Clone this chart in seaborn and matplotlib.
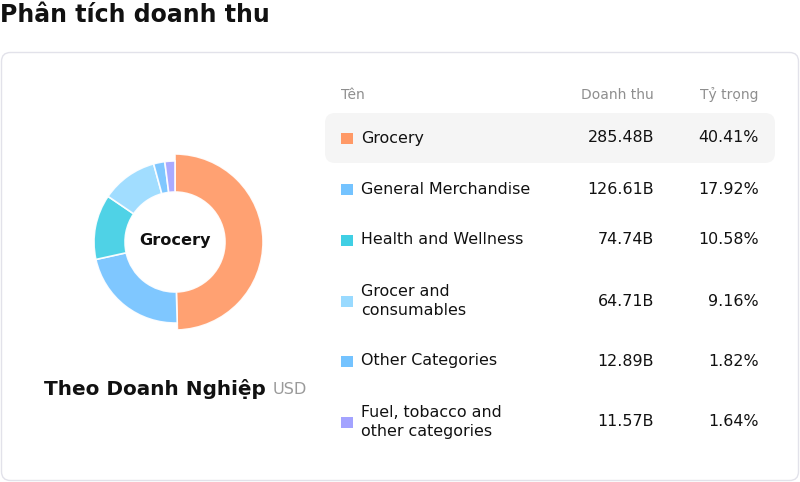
import matplotlib
matplotlib.use("Agg")
import matplotlib.pyplot as plt
from matplotlib.patches import FancyBboxPatch, Rectangle
import seaborn as sns

# ---- data ----
categories = ["Grocery", "General Merchandise", "Health and Wellness",
              "Grocer and\nconsumables", "Other Categories",
              "Fuel, tobacco and\nother categories"]
revenue = [285.48, 126.61, 74.74, 64.71, 12.89, 11.57]
revenue_labels = ["285.48B", "126.61B", "74.74B", "64.71B", "12.89B", "11.57B"]
share_labels = ["40.41%", "17.92%", "10.58%", "9.16%", "1.82%", "1.64%"]
colors = ["#FF9966", "#74C3FF", "#40CFE4", "#99DAFF", "#74C3FF", "#A3A3FF"]
headers = ["Tên", "Doanh thu", "Tỷ trọng"]
title = "Phân tích doanh thu"
subtitle = "Theo Doanh Nghiệp"
unit = "USD"
center_label = "Grocery"

sns.set_theme(style="white")
plt.rcParams['font.family'] = ['DejaVu Sans']

W, H = 800, 482
fig = plt.figure(figsize=(W / 100, H / 100), dpi=100)
fig.patch.set_facecolor("white")

bg = fig.add_axes([0, 0, 1, 1])
bg.set_xlim(0, W)
bg.set_ylim(H, 0)
bg.axis("off")

# title
bg.text(0, 15.5, title, fontsize=17, fontweight="bold", color="#111111",
        ha="left", va="center")

# card
card = FancyBboxPatch((1.5, 52.5), 797, 428, boxstyle="round,pad=0,rounding_size=9",
                      facecolor="white", edgecolor="#E2E2EA", linewidth=1)
bg.add_patch(card)

# highlighted row
hl = FancyBboxPatch((325, 113), 450, 50, boxstyle="round,pad=0,rounding_size=10",
                    facecolor="#F5F5F5", edgecolor="none")
bg.add_patch(hl)

# table header
hdr_y = 95
bg.text(341, hdr_y, headers[0], fontsize=10, color="#8E8E8E", ha="left", va="center")
bg.text(654, hdr_y, headers[1], fontsize=10, color="#8E8E8E", ha="right", va="center")
bg.text(759, hdr_y, headers[2], fontsize=10, color="#8E8E8E", ha="right", va="center")

row_y = [138, 189, 240, 301, 361, 422]
for cat, rv, sh, col, y in zip(categories, revenue_labels, share_labels, colors, row_y):
    bg.add_patch(Rectangle((341, y - 5.5), 11.5, 11.5, facecolor=col, edgecolor="none"))
    bg.text(361, y, cat, fontsize=11.4, color="#111111", ha="left", va="center",
            linespacing=1.38)
    bg.text(654, y, rv, fontsize=11.4, color="#111111", ha="right", va="center")
    bg.text(759, y, sh, fontsize=11.4, color="#111111", ha="right", va="center")

# subtitle
bg.text(44, 389, subtitle, fontsize=14.4, fontweight="bold", color="#111111",
        ha="left", va="center")
bg.text(273, 389, unit, fontsize=11.6, color="#9A9A9A", ha="left", va="center")

# donut
cx, cy, box = 175, 242, 200
pax = fig.add_axes([(cx - box / 2) / W, (H - cy - box / 2) / H, box / W, box / H])
wedges, _ = pax.pie(revenue, colors=colors, startangle=90, counterclock=False,
                    radius=0.81,
                    wedgeprops=dict(width=0.31, edgecolor="white", linewidth=1.2, alpha=0.92))
wedges[0].set_radius(0.88)
wedges[0].set_width(0.38)
pax.set_xlim(-1, 1)
pax.set_ylim(-1, 1)
pax.set_aspect("equal")
pax.axis("off")
pax.text(0, 0.01, center_label, fontsize=11.6, fontweight="bold", color="#111111",
         ha="center", va="center")

fig.savefig("out.png", dpi=100, facecolor="white")
